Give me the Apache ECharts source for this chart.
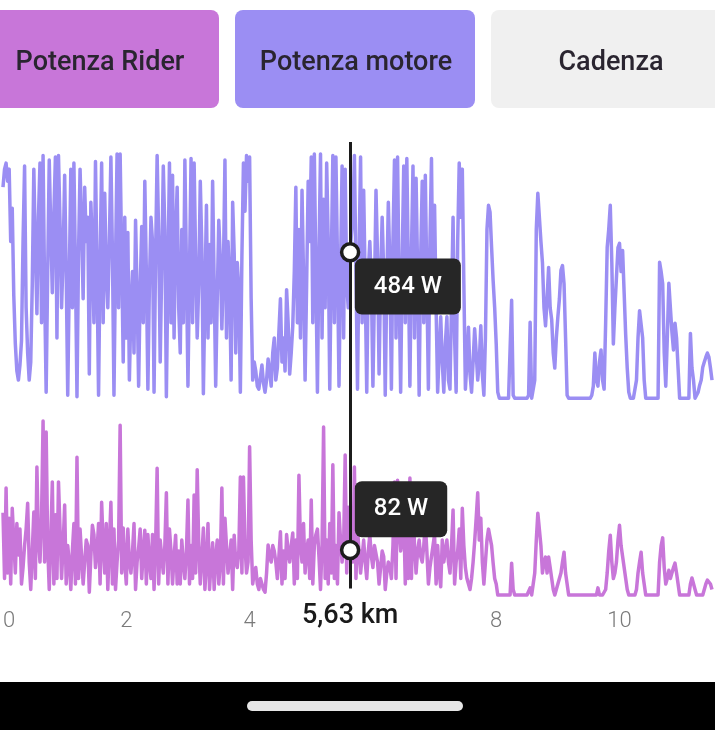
<!DOCTYPE html>
<html>
<head>
<meta charset="utf-8">
<script src="https://cdn.jsdelivr.net/npm/echarts@6/dist/echarts.min.js"></script>
<style>
  html, body { margin: 0; padding: 0; background: #fff; }
  #chart { width: 715px; height: 730px; }
</style>
</head>
<body>
<div id="chart"></div>
<script>
// samples every 0.025 km, starting at 0 km
const STEP_KM = 0.025;

const motorPower = [
  700, 760, 780, 720, 760, 520, 630, 340, 180, 90, 60, 110, 190, 520, 770, 300, 150, 60, 120, 380,
  760, 500, 280, 600, 780, 250, 805, 360, 20, 420, 790, 560, 350, 610, 800, 200, 805, 580, 300, 470,
  740, 420, 10, 390, 760, 300, 780, 430, 5, 480, 760, 570, 330, 700, 520, 600, 80, 650, 500, 250,
  785, 420, 10, 460, 780, 250, 680, 420, 300, 520, 800, 480, 10, 450, 810, 300, 810, 470, 120, 600,
  200, 550, 60, 300, 420, 150, 590, 350, 40, 360, 570, 250, 720, 420, 30, 380, 600, 520, 20, 470,
  805, 540, 120, 440, 770, 560, 5, 420, 780, 250, 740, 200, 540, 700, 300, 150, 560, 250, 790, 440,
  40, 420, 795, 250, 780, 460, 200, 380, 720, 500, 15, 340, 640, 200, 510, 250, 720, 380, 40, 330,
  590, 460, 230, 420, 790, 200, 520, 390, 60, 650, 480, 150, 450, 360, 20, 470, 780, 620, 805, 720,
  800, 330, 60, 120, 90, 40, 30, 70, 110, 50, 20, 60, 130, 90, 40, 150, 200, 60, 100, 220,
  330, 120, 200, 90, 360, 250, 80, 150, 240, 420, 700, 250, 560, 200, 690, 400, 60, 380, 720, 520,
  800, 250, 810, 420, 20, 480, 810, 200, 660, 300, 780, 520, 30, 450, 805, 250, 800, 460, 40, 430,
  770, 200, 760, 380, 300, 470, 540, 600, 805, 420, 30, 480, 800, 250, 690, 380, 20, 420, 520, 380,
  40, 350, 690, 470, 80, 400, 600, 420, 10, 380, 650, 440, 30, 520, 790, 200, 800, 360, 20, 460,
  770, 250, 795, 420, 40, 480, 770, 200, 730, 420, 10, 470, 720, 250, 740, 380, 30, 520, 795, 300,
  640, 300, 20, 150, 270, 120, 20, 180, 270, 60, 30, 320, 600, 200, 20, 520, 780, 600, 760, 380,
  30, 120, 235, 80, 20, 120, 230, 150, 60, 120, 240, 80, 10, 200, 560, 640, 617, 500, 390, 300,
  180, 20, 0, 0, 0, 0, 0, 0, 0, 0, 325, 10, 0, 0, 0, 0, 0, 0, 0, 0,
  0, 10, 252, 0, 0, 60, 560, 680, 680, 520, 450, 300, 240, 330, 434, 300, 260, 150, 100, 200,
  270, 330, 424, 440, 380, 200, 10, 0, 0, 0, 0, 0, 0, 0, 0, 0, 0, 0, 0, 0,
  0, 0, 10, 40, 150, 60, 40, 120, 160, 60, 30, 250, 500, 560, 640, 450, 180, 300, 400, 500,
  514, 420, 490, 350, 210, 100, 20, 0, 0, 0, 0, 60, 200, 290, 290, 200, 60, 0, 0, 0,
  0, 0, 0, 0, 0, 0, 451, 420, 380, 150, 40, 200, 381, 300, 220, 160, 249, 200, 100, 0,
  0, 0, 0, 0, 0, 0, 215, 100, 60, 0, 0, 20, 43, 60, 103, 120, 136, 150, 136, 100,
  60
];

const riderPower = [
  150, 30, 195, 40, 140, 20, 158, 100, 40, 130, 73, 120, 20, 50, 90, 120, 167, 60, 10, 80,
  151, 30, 233, 100, 60, 140, 317, 60, 297, 90, 10, 100, 206, 20, 146, 30, 206, 120, 30, 90,
  164, 20, 90, 60, 10, 80, 130, 20, 251, 30, 120, 70, 20, 60, 100, 90, 5, 70, 127, 110,
  50, 80, 130, 20, 169, 90, 40, 130, 10, 90, 169, 20, 120, 10, 60, 100, 309, 40, 122, 60,
  20, 120, 60, 40, 78, 130, 10, 60, 86, 120, 30, 80, 118, 20, 110, 60, 30, 110, 10, 90,
  231, 20, 100, 70, 40, 90, 186, 20, 120, 80, 20, 70, 109, 20, 80, 20, 100, 60, 30, 80,
  173, 20, 90, 30, 182, 40, 228, 90, 20, 70, 122, 10, 60, 130, 10, 60, 95, 10, 70, 100,
  20, 60, 195, 20, 140, 90, 40, 70, 100, 10, 109, 60, 50, 80, 215, 40, 215, 90, 40, 60,
  270, 100, 20, 40, 50, 20, 10, 30, 30, 10, 5, 40, 91, 70, 60, 90, 80, 60, 30, 70,
  115, 20, 80, 30, 110, 80, 60, 90, 113, 20, 100, 30, 218, 90, 60, 130, 40, 80, 100, 30,
  173, 20, 90, 110, 120, 70, 10, 90, 306, 30, 100, 20, 130, 40, 237, 30, 90, 20, 150, 100,
  60, 90, 255, 40, 160, 80, 90, 60, 233, 30, 120, 80, 40, 70, 100, 60, 30, 80, 110, 70,
  50, 90, 90, 60, 20, 50, 80, 70, 10, 40, 60, 50, 30, 90, 206, 30, 209, 120, 80, 100,
  150, 20, 110, 30, 213, 30, 160, 90, 40, 80, 100, 70, 60, 90, 130, 80, 20, 50, 70, 90,
  110, 20, 90, 40, 15, 100, 60, 80, 100, 60, 40, 90, 155, 20, 60, 80, 120, 30, 158, 90,
  50, 30, 20, 10, 30, 60, 97, 140, 186, 100, 140, 60, 20, 60, 100, 120, 120, 90, 58, 30,
  20, 0, 0, 0, 0, 0, 0, 0, 0, 0, 58, 10, 0, 0, 0, 0, 0, 0, 0, 0,
  0, 0, 13, 0, 0, 40, 100, 149, 149, 90, 40, 60, 69, 40, 69, 50, 30, 10, 0, 0,
  20, 30, 40, 60, 78, 40, 20, 0, 0, 0, 0, 0, 0, 0, 0, 0, 0, 0, 0, 0,
  0, 0, 0, 0, 0, 0, 13, 0, 0, 0, 0, 10, 40, 80, 109, 60, 30, 40, 60, 100,
  127, 90, 87, 50, 30, 10, 0, 0, 0, 0, 0, 10, 40, 60, 78, 40, 20, 0, 0, 0,
  0, 0, 0, 0, 0, 0, 60, 90, 104, 50, 20, 30, 45, 30, 40, 50, 58, 40, 20, 0,
  0, 0, 0, 0, 0, 0, 20, 31, 31, 10, 0, 0, 0, 0, 0, 10, 20, 27, 27, 20,
  10
];

const xTicks = [0, 2, 4, 6, 8, 10];
const cursorKm = 5.63;
const cursorMotor = 484;
const cursorRider = 82;
const buttons = ['Potenza Rider', 'Potenza motore', 'Cadenza'];

const PURPLE = '#9b8ef3';
const PINK = '#c876d9';
const DARK = '#1c1c1c';

const toPairs = (arr) => arr.map((v, i) => [+(i * STEP_KM).toFixed(3), v]);

const chart = echarts.init(document.getElementById('chart'));

const tipLabel = (text, pos) => ({
  show: true,
  position: pos,
  formatter: text,
  color: '#fff',
  fontFamily: 'Roboto',
  fontWeight: 500,
  fontSize: 24,
  lineHeight: 28,
  backgroundColor: '#262626',
  borderRadius: 7,
  padding: [14, 19, 14, 19],
});

const cursorSymbol = {
  symbol: 'circle',
  symbolSize: 17,
  itemStyle: {color: '#fff', borderColor: DARK, borderWidth: 3.5},
};

chart.setOption({
  animation: false,
  grid: {left: -5, top: 142, width: 722.5, height: 453},
  xAxis: {
    type: 'value',
    min: 0,
    max: 11.5,
    interval: 2,
    axisLine: {show: false},
    axisTick: {show: false},
    splitLine: {show: false},
    axisLabel: {
      margin: 15,
      color: '#7a7a7a',
      fontFamily: 'Roboto',
      fontWeight: 300,
      fontSize: 22,
      alignMinLabel: 'left',
      formatter: (v) => {
        if (!xTicks.includes(v) || v === 6) return '';
        return v === 0 ? '{z|0}' : String(v);
      },
      rich: {z: {padding: [0, 0, 0, 0], color: '#7a7a7a', fontFamily: 'Roboto', fontWeight: 300, fontSize: 22}},
    },
  },
  yAxis: [
    {type: 'value', min: -653, max: 850, show: false, splitLine: {show: false}},
    {type: 'value', min: 0, max: 825, show: false, splitLine: {show: false}},
  ],
  series: [
    {
      name: 'Potenza motore',
      type: 'line',
      yAxisIndex: 0,
      data: toPairs(motorPower),
      symbol: 'none',
      clip: false,
      lineStyle: {color: PURPLE, width: 3.5, join: 'round'},
      markPoint: Object.assign({
        z: 10,
        silent: true,
        data: [{coord: [cursorKm, cursorMotor]}],
        label: tipLabel(cursorMotor + ' W', [15, 16.5]),
      }, cursorSymbol),
    },
    {
      name: 'Potenza Rider',
      type: 'line',
      yAxisIndex: 1,
      data: toPairs(riderPower),
      symbol: 'none',
      clip: false,
      lineStyle: {color: PINK, width: 3.5, join: 'round'},
      markLine: {
        silent: true,
        symbol: 'none',
        z: 4,
        lineStyle: {color: DARK, width: 3, type: 'solid'},
        label: {
          show: true,
          position: 'start',
          distance: 14,
          formatter: '5,63 km',
          color: '#1a1a1a',
          fontFamily: 'Roboto',
          fontWeight: 500,
          fontSize: 27,
        },
        data: [[{coord: [cursorKm, 12]}, {coord: [cursorKm, 825]}]],
      },
      markPoint: Object.assign({
        z: 10,
        silent: true,
        data: [{coord: [cursorKm, cursorRider]}],
        label: tipLabel(cursorRider + ' W', [15, -58.5]),
      }, cursorSymbol),
    },
  ],
  graphic: [
    {type: 'rect', shape: {x: -21, y: 10, width: 240, height: 98, r: 8}, style: {fill: PINK}},
    {type: 'rect', shape: {x: 235, y: 10, width: 240, height: 98, r: 8}, style: {fill: PURPLE}},
    {type: 'rect', shape: {x: 491, y: 10, width: 240, height: 98, r: 8}, style: {fill: '#f0f0f0'}},
    {type: 'text', x: 100, y: 63, style: {text: buttons[0], textAlign: 'center', textVerticalAlign: 'middle', fill: '#2a2530', font: '500 27px Roboto'}},
    {type: 'text', x: 356, y: 63, style: {text: buttons[1], textAlign: 'center', textVerticalAlign: 'middle', fill: '#2a2530', font: '500 27px Roboto'}},
    {type: 'text', x: 611, y: 63, style: {text: buttons[2], textAlign: 'center', textVerticalAlign: 'middle', fill: '#2a2530', font: '500 27px Roboto'}},
    {type: 'rect', shape: {x: 0, y: 682, width: 715, height: 48}, style: {fill: '#000'}},
    {type: 'rect', shape: {x: 247, y: 701, width: 216, height: 10, r: 5}, style: {fill: '#e6e6e6'}},
  ],
});
</script>
</body>
</html>
